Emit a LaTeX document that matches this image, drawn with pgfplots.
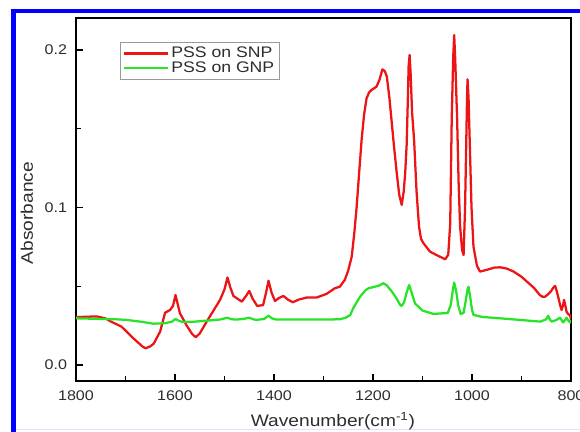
\documentclass[border=0pt]{standalone}
\usepackage{fontspec}
\setmainfont[FakeStretch=1.15]{Liberation Sans}
\usepackage{pgfplots}
\pgfplotsset{compat=1.18}
\usepackage{pgfplotstable}

\definecolor{snpred}{RGB}{236,20,20}
\definecolor{gnpgreen}{RGB}{40,228,40}
\definecolor{framblue}{RGB}{0,0,255}
\definecolor{txt}{RGB}{45,45,45}

% FTIR absorbance, PSS on silica nanoparticles
\pgfplotstableread{
w a
1800 0.0303
1780 0.0306
1758 0.0308
1740 0.0295
1731 0.0278
1708 0.0243
1684 0.0169
1665 0.0115
1659 0.0106
1650 0.0118
1643 0.0135
1630 0.0212
1620 0.0332
1610 0.0349
1604 0.0375
1599 0.0444
1594 0.0380
1590 0.0328
1576 0.0248
1565 0.0195
1558 0.0176
1550 0.0200
1536 0.0275
1509 0.0413
1500 0.0480
1494 0.0555
1488 0.0490
1482 0.0438
1465 0.0402
1456 0.0440
1450 0.0470
1443 0.0420
1434 0.0375
1422 0.0380
1416 0.0460
1411 0.0535
1405 0.0460
1398 0.0406
1390 0.0425
1381 0.0438
1372 0.0415
1362 0.0398
1350 0.0415
1334 0.0428
1314 0.0428
1294 0.0451
1277 0.0487
1267 0.0497
1257 0.0540
1250 0.0600
1243 0.0688
1238 0.0830
1233 0.1005
1228 0.1220
1223 0.1429
1218 0.1590
1213 0.1693
1208 0.1730
1203 0.1746
1193 0.1767
1187 0.1810
1181 0.1877
1176 0.1865
1172 0.1830
1167 0.1700
1162 0.1534
1157 0.1370
1152 0.1217
1147 0.1080
1142 0.1016
1138 0.1100
1135 0.1217
1132 0.1400
1130 0.1640
1128 0.1900
1126 0.1968
1124 0.1850
1121 0.1600
1117 0.1430
1112 0.1100
1107 0.0878
1103 0.0800
1098 0.0773
1085 0.0720
1070 0.0695
1054 0.0671
1048 0.0700
1044 0.0900
1041 0.1556
1038 0.1950
1036 0.2095
1034 0.1950
1030 0.1556
1027 0.1150
1024 0.0878
1020 0.0730
1017 0.0698
1014 0.1000
1012 0.1346
1010 0.1700
1009 0.1814
1007 0.1700
1004 0.1346
1001 0.1000
997 0.0751
990 0.0630
984 0.0593
971 0.0603
955 0.0618
943 0.0620
930 0.0612
916 0.0593
900 0.0560
889 0.0529
875 0.0490
863 0.0444
857 0.0432
852 0.0434
846 0.0450
840 0.0470
836 0.0490
832 0.0502
829 0.0470
826 0.0434
822 0.0380
819 0.0349
816 0.0380
814 0.0413
811 0.0370
809 0.0338
805 0.0320
802 0.0317
800 0.0290
}\snp

% FTIR absorbance, PSS on gold nanoparticles
\pgfplotstableread{
w a
1800 0.0296
1760 0.0293
1720 0.0290
1698 0.0286
1670 0.0275
1644 0.0262
1620 0.0265
1606 0.0275
1599 0.0292
1592 0.0280
1584 0.0272
1560 0.0275
1536 0.0281
1510 0.0288
1494 0.0300
1486 0.0290
1475 0.0288
1460 0.0293
1450 0.0300
1442 0.0290
1435 0.0286
1420 0.0292
1411 0.0313
1404 0.0295
1395 0.0288
1350 0.0288
1300 0.0288
1267 0.0290
1255 0.0300
1246 0.0317
1240 0.0360
1226 0.0434
1215 0.0475
1209 0.0487
1196 0.0497
1187 0.0505
1179 0.0519
1172 0.0505
1162 0.0466
1152 0.0420
1145 0.0380
1142 0.0375
1137 0.0400
1132 0.0460
1127 0.0508
1122 0.0460
1115 0.0390
1100 0.0345
1078 0.0324
1049 0.0330
1043 0.0380
1039 0.0470
1036 0.0523
1032 0.0470
1028 0.0380
1023 0.0324
1017 0.0330
1013 0.0400
1009 0.0480
1007 0.0497
1004 0.0440
1000 0.0350
997 0.0318
980 0.0305
943 0.0296
900 0.0285
862 0.0275
850 0.0290
846 0.0313
843 0.0290
839 0.0275
830 0.0285
822 0.0300
816 0.0270
812 0.0285
809 0.0300
805 0.0280
802 0.0270
800 0.0285
}\gnp

\begin{document}
\begin{tikzpicture}
\useasboundingbox (0,0) rectangle (435pt,-323.25pt);
\begin{scope}
  \clip (0,0) rectangle (435pt,-323.25pt);
  \draw[framblue, line width=3.4pt] (10.1pt,-340pt) -- (10.1pt,-8.25pt) -- (450pt,-8.25pt);
  \draw[blue!12, line width=0.8pt] (12pt,-321.8pt) -- (450pt,-321.8pt);
\end{scope}
\begin{axis}[
  at={(57pt,-285.75pt)}, anchor=south west,
  scale only axis, width=371.25pt, height=272.25pt,
  x dir=reverse,
  xmin=800, xmax=1800, ymin=-0.0102, ymax=0.2203,
  xtick={800,1000,...,1800}, minor xtick={900,1100,...,1700},
  ytick={0,0.1,0.2}, minor ytick={0.05,0.15},
  tick pos=left, tick align=inside,
  major tick length=5.25pt, minor tick length=3.75pt,
  every tick/.style={black, line width=0.9pt},
  axis line style={black, line width=1.1pt},
  /pgf/number format/assume math mode=true,
  /pgf/number format/1000 sep={},
  yticklabel style={/pgf/number format/fixed, /pgf/number format/fixed zerofill, /pgf/number format/precision=1},
  ticklabel style={font=\fontsize{10.5}{12}\selectfont, text=txt},
  xticklabel shift=3.5pt, yticklabel shift=3.2pt,
  xlabel={Wavenumber(cm\textsuperscript{-1})},
  ylabel={Absorbance},
  label style={font=\fontsize{12.5}{14}\selectfont, text=txt},
  xlabel style={at={(axis description cs:0.519,-0.124)}, anchor=base},
  ylabel style={at={(axis description cs:-0.099,0.463)}, anchor=center},
  legend style={at={(axis description cs:0.0889,0.934)}, anchor=north west,
    draw=gray!80, line width=0.6pt, font=\fontsize{11.5}{13}\selectfont,
    text=txt, inner sep=1.5pt, row sep=-2.5pt, cells={anchor=west}},
  legend image code/.code={\draw[#1] (0pt,0pt) -- (33pt,0pt);},
]
\addplot[snpred, line width=1.7pt, line join=round] table[x=w, y=a] {\snp};
\addlegendentry{PSS on SNP}
\addplot[gnpgreen, line width=1.7pt, line join=round] table[x=w, y=a] {\gnp};
\addlegendentry{PSS on GNP}
\end{axis}
\end{tikzpicture}
\end{document}
